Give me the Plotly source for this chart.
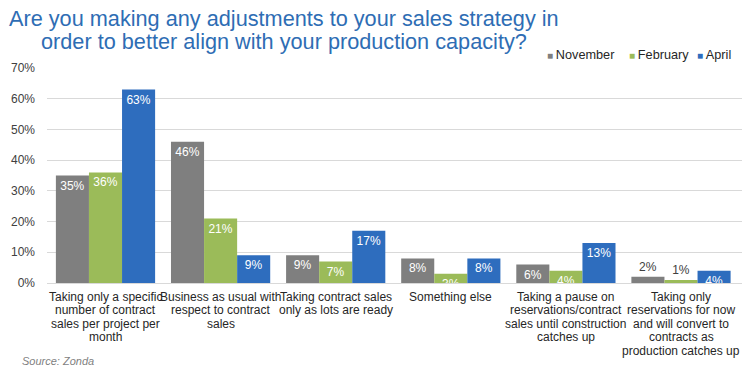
import plotly.graph_objects as go

categories = [
    "Taking only a specific<br>number of contract<br>sales per project per<br>month",
    "Business as usual with<br>respect to contract<br>sales",
    "Taking contract sales<br>only as lots are ready",
    "Something else",
    "Taking a pause on<br>reservations/contract<br>sales until construction<br>catches up",
    "Taking only<br>reservations for now<br>and will convert to<br>contracts as<br>production catches up",
]
november = [35, 46, 9, 8, 6, 2]
february = [36, 21, 7, 3, 4, 1]
april = [63, 9, 17, 8, 13, 4]
series_names = ["November", "February", "April"]
colors = ["#7F7F7F", "#9BBB59", "#2E6DBE"]
y_ticks = [0, 10, 20, 30, 40, 50, 60, 70]

L, T, PW, PH = 47, 68, 695, 215


def px_x(px):
    return (px - L) / PW


def px_y(py):
    return (T + PH - py) / PH


fig = go.Figure()
for name, vals, col in zip(series_names, [november, february, april], colors):
    positions = ["outside" if v <= 2 else "inside" for v in vals]
    tcolors = ["#404040" if v <= 2 else "white" for v in vals]
    fig.add_trace(go.Bar(
        name=name, x=categories, y=vals,
        marker=dict(color=col, line=dict(width=0)),
        text=[f"{v}%" for v in vals],
        textposition=positions,
        insidetextanchor="end",
        constraintext="none",
        textfont=dict(family="Liberation Sans, Arial", size=12, color=tcolors),
        cliponaxis=False,
        showlegend=False,
    ))

fig.update_layout(
    width=752, height=371,
    margin=dict(l=L, r=752 - L - PW, t=T, b=371 - T - PH, autoexpand=False),
    paper_bgcolor="white", plot_bgcolor="white",
    barmode="group", bargap=0.138, bargroupgap=0,
    showlegend=False,
    xaxis=dict(
        showticklabels=False,
        showline=True, linecolor="#D9D9D9", linewidth=1, ticks="",
        automargin=False,
    ),
    yaxis=dict(
        range=[0, 70], tickvals=y_ticks, ticktext=[f"{t}%" for t in y_ticks],
        tickfont=dict(family="Liberation Sans, Arial", size=12, color="#404040"),
        gridcolor="#D9D9D9", gridwidth=1, zeroline=False, ticks="", ticklen=0,
        ticklabelstandoff=11, automargin=False,
    ),
)

# category labels, one annotation per line (tight line spacing as in reference)
for cat in categories:
    for i, line in enumerate(cat.split("<br>")):
        fig.add_annotation(
            text=line, xref="x", yref="paper", x=cat, xanchor="center",
            y=px_y(297 + 13.4 * i), yanchor="middle", showarrow=False,
            font=dict(family="Liberation Sans Narrow, Arial Narrow, Liberation Sans", size=12, color="#262626"),
        )

title_lines = [
    ("Are you making any adjustments to your sales strategy in", 18),
    ("order to better align with your production capacity?", 42),
]
for txt, cy in title_lines:
    fig.add_annotation(
        text=txt, xref="paper", yref="paper", x=px_x(284), xanchor="center",
        y=px_y(cy), yanchor="middle", showarrow=False,
        font=dict(family="Liberation Sans, Arial", size=21.7, color="#2E6DB4"),
    )

legend_x = [545, 627, 695]
for name, col, lx in zip(series_names, colors, legend_x):
    fig.add_annotation(
        text=f"<span style='color:{col};font-size:10px'>■ </span>{name}",
        xref="paper", yref="paper", x=px_x(lx), xanchor="left",
        y=px_y(55), yanchor="middle", showarrow=False,
        font=dict(family="Liberation Sans, Arial", size=12.7, color="#262626"),
    )

fig.add_annotation(
    text="<i>Source: Zonda</i>", xref="paper", yref="paper",
    x=px_x(20), xanchor="left", y=px_y(361), yanchor="middle",
    showarrow=False, font=dict(family="Liberation Sans, Arial", size=11, color="#7F7F7F"),
)
fig.write_html(
    "out.html",
    config={"displayModeBar": False},
    post_script="document.body.style.margin='0';document.body.style.overflow='hidden';",
)
